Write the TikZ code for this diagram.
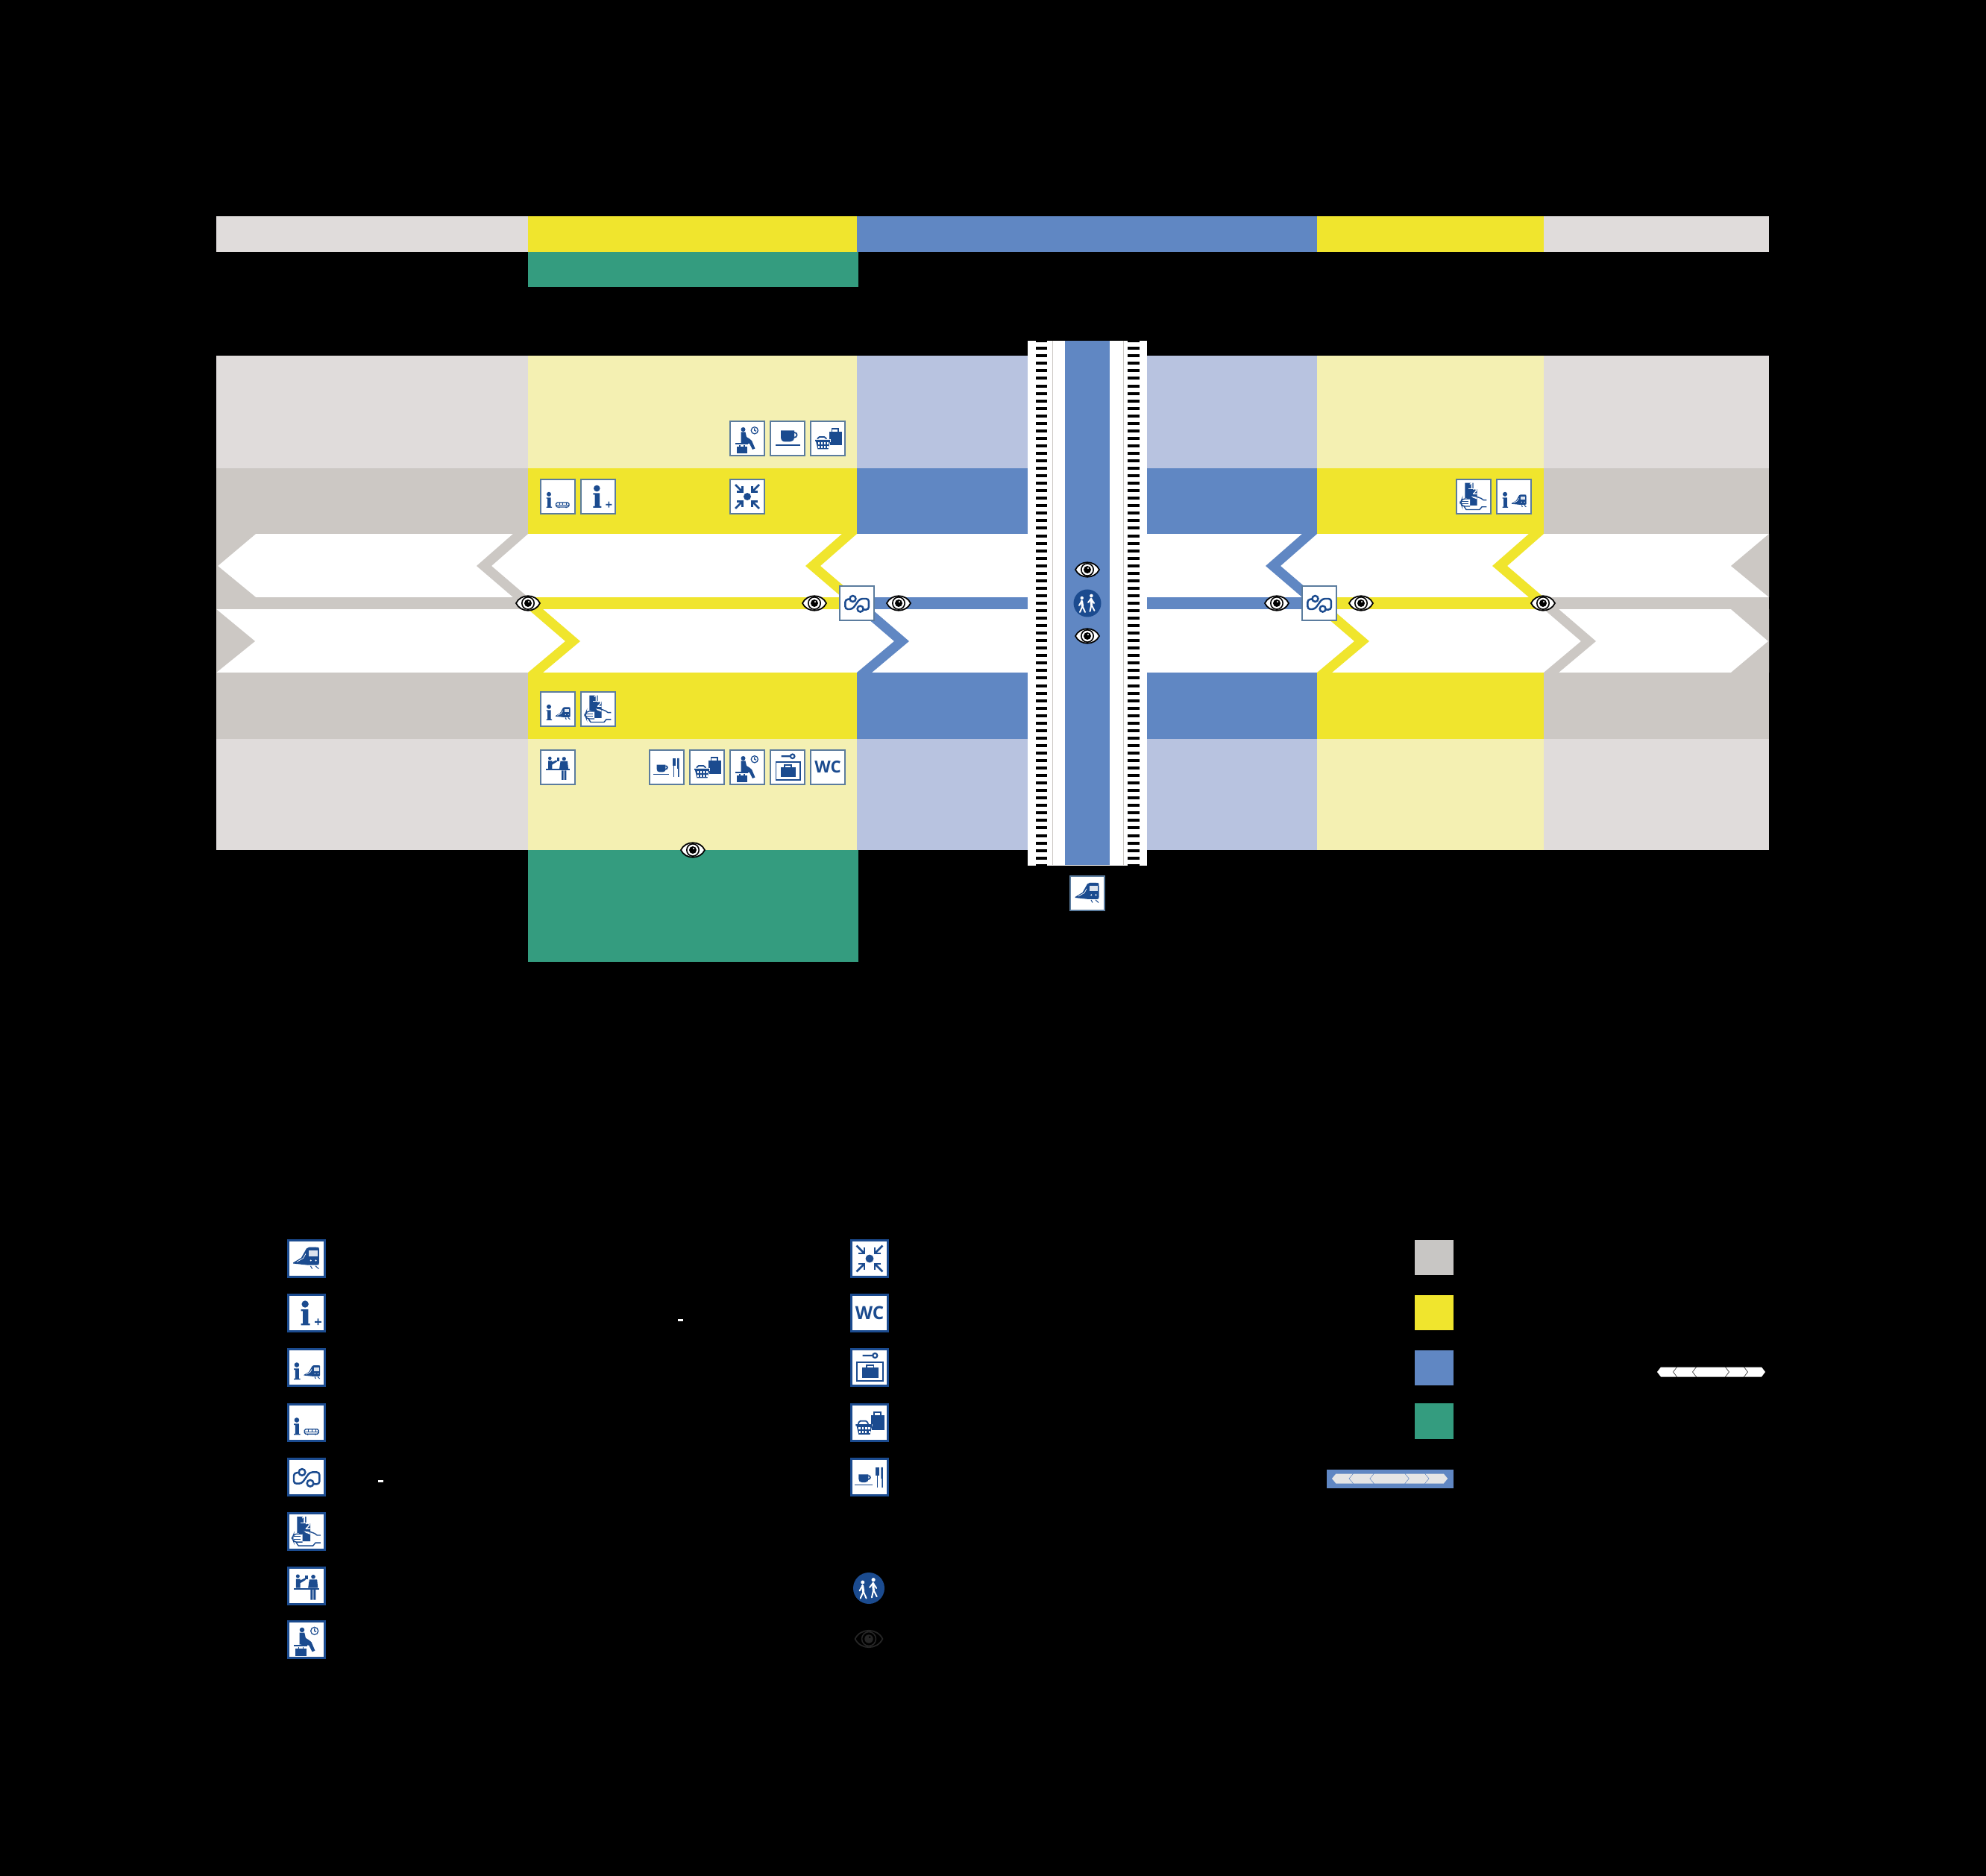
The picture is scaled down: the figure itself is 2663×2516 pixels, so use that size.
\documentclass[tikz,border=0pt]{standalone}
\usepackage{fontspec}
\setsansfont{Open Sans}
\definecolor{grayhi}{HTML}{E0DCDB}
\definecolor{graylo}{HTML}{CCC8C4}
\definecolor{yellowhi}{HTML}{F4F0B2}
\definecolor{yellowlo}{HTML}{F0E52D}
\definecolor{bluehi}{HTML}{B8C3E0}
\definecolor{bluelo}{HTML}{6087C3}
\definecolor{parkgreen}{HTML}{349C7F}
\definecolor{icoblue}{HTML}{1B4B8F}
\definecolor{icoframe}{HTML}{5B7C9E}
\definecolor{keygray}{HTML}{C8C6C4}
\newcommand{\infoglyph}[3]{\begin{scope}[shift={(#1,#2)},scale=#3]
 \fill[icoblue] (-.7,-26) circle (4.3);
 \fill[icoblue] (-5.7,-19.5)--(3.2,-19.5)--(3.2,-2)--(5.3,-2)--(5.3,0)--(-5.7,0)--(-5.7,-2)--(-3.5,-2)--(-3.5,-17.5)--(-5.7,-17.5)--cycle;
\end{scope}}
\newcommand{\trainglyph}[3]{\begin{scope}[shift={(#1,#2)},scale=#3]
 \fill[icoblue] (-16.5,5)--(-6.5,-1) .. controls (-3,-7) .. (0,-12.5) .. controls (1,-14) .. (3,-14)--(12,-14) .. controls (15.5,-14) .. (15.5,-9)--(15.5,5) .. controls (15.5,7.5) .. (12,8)--(2,8)--(-16.5,6)--cycle;
 \fill[white!85!icoblue] (3,-10) rectangle (13.5,-2.5);
 \fill[white] (5.3,2.3) circle (1.1) (11.5,2.3) circle (1.1);
 \draw[white,line width=.2pt] (-12,4)--(-4,-.5)--(-1,-6);
 \draw[icoblue,line width=.3pt] (5,9)--(7,12.5) (11,9)--(15,12.5);
\end{scope}}
\newcommand{\cupglyph}[3]{\begin{scope}[shift={(#1,#2)},scale=#3]
 \fill[icoblue] (-9,-10.5)--(9,-10.5)--(9,-2) .. controls (9,3) and (6,4.5) .. (3,4.5)--(-3,4.5) .. controls (-7,4.5) and (-9,2) .. (-9,-2)--cycle;
 \draw[icoblue,line width=.5pt] (9,-8) .. controls (14,-8) and (14,-1) .. (8,-1);
 \fill[icoblue] (-16.5,8) rectangle (16.5,10.5);
\end{scope}}
\newcommand{\shopglyph}{
 \fill[icoblue] (1.5,-9) rectangle (18.5,9);
 \draw[icoblue,line width=.5pt] (5.5,-9)--(5.5,-13)--(14,-13)--(14,-9);
 \draw[icoblue,fill=white,line width=.5pt,rounded corners=.5pt] (-14,3)--(-13,-2)--(-3,-2)--(-1.5,3);
 \draw[white,line width=.9pt] (-18,3)--(4,3) (1.5,3.8)--(1.5,9);
 \fill[icoblue] (-17,2)--(3,2)--(3,4)--(.5,14.5)--(-13.5,14.5)--(-16,4)--(-17,4)--cycle;
 \foreach \hx in {-13.5,-9.5,-5.5,-1.5}{
  \fill[white] (\hx,5.5) rectangle (\hx+2.6,8.5);
  \fill[white] (\hx+.4,10) rectangle (\hx+2.2,13);
 }
}
\newcommand{\waitglyph}{
 \fill[icoblue] (-5.5,-12) circle (3);
 \fill[icoblue] (-8.5,-8.5)--(-2.5,-8.5)--(-1,-2)--(3,.5)--(6,3)--(10.5,13.5)--(7,15)--(3,7)--(-8.5,6)--cycle;
 \fill[icoblue] (-15.6,6) rectangle (.6,8.3);
 \fill[icoblue] (-13.8,10.7) rectangle (-.3,20);
 \draw[icoblue,line width=.3pt] (-10,10.7)--(-10,9) (-4,9)--(-4,10.7);
 \draw[icoblue,line width=.35pt] (9.8,-10.7) circle (4.6) (9.8,-13.7)--(9.8,-10.7)--(12,-9.7);
}
\tikzset{
 pics/eye/.style 2 args={code={
  \draw[#1,fill=#2,line width=.5pt] (-16,0) .. controls (-10,-13) and (10,-13) .. (16,0) .. controls (10,13) and (-10,13) .. (-16,0)--cycle;
  \draw[#1,line width=.45pt] (0,0) circle (8.2);
  \fill[#1] (0,0) circle (5);
  \fill[#2] (1,-2) circle (1.2);
 }},
 pics/trainico/.style={code={\trainglyph{0}{0}{1}}},
 pics/infoplus/.style={code={
  \infoglyph{-1}{15}{1}
  \fill[icoblue] (10.3,10) rectangle (18.3,11.7) (13.5,6.7) rectangle (15.1,14.7);
 }},
 pics/infotrain/.style={code={
  \infoglyph{-11.5}{15}{.7}
  \trainglyph{7}{6}{.62}
 }},
 pics/infobus/.style={code={
  \infoglyph{-11.5}{15}{.7}
  \draw[icoblue,line width=.35pt,rounded corners=.5pt] (-2.5,8) rectangle (15,14);
  \draw[icoblue,line width=.25pt] (-2.5,11)--(15,11) (2,8)--(2,11) (6.5,8)--(6.5,11) (11,8)--(11,11);
  \fill[icoblue] (1.5,14.5) circle (1) (11,14.5) circle (1);
 }},
 pics/transfer/.style={code={
  \draw[icoblue,line width=.7pt,rounded corners=1pt] (-9.5,-5.5)--(-15.6,-5)--(-15.6,8)--(-6,8)--(4,-6)--(15.9,-6)--(15.9,8.6)--(8.6,8.6);
  \draw[icoblue,fill=white,line width=.7pt] (-5.5,-6) circle (4) (4.6,7.6) circle (4);
 }},
 pics/ticket/.style={code={
  \fill[icoblue] (-11.6,-18.3)--(-.3,-18.3)--(-.3,-9.8)--(4.6,-9.8)--(4.6,12)--(-9,12)--(-9,2)--(-11.6,2)--cycle;
  \node[font=\sffamily\bfseries\fontsize{3.2}{3}\selectfont,white,inner sep=0pt,transform shape] (stepone) at (-3,-14.7) {1};
  \node[font=\sffamily\bfseries\fontsize{3.2}{3}\selectfont,white,inner sep=0pt,transform shape] (steptwo) at (1.8,-6.7) {2};
  \draw[white,line width=.2pt] (-7,-10.3)--(4,-10.3);
  \fill[white] (-4,-1.5)--(3.7,0)--(4.6,3.5)--(-1,1.5)--cycle;
  \draw[icoblue,line width=.4pt,line join=round] (-4,-1.5)--(3.7,0)--(10,2.4)--(13,4.6)--(17.4,4.6);
  \draw[icoblue,line width=.4pt,line join=round] (17.4,13.8)--(11,13.8)--(8,17.5)--(-10,17.5)--(-13,13);
  \draw[icoblue,fill=white,line width=.4pt,rounded corners=1pt] (-5,3)--(-15.5,3)--(-17.6,8)--(-15.5,13)--(-5,13);
  \draw[icoblue,line width=.3pt] (-16,6.3)--(-7,6.3) (-16,9.7)--(-7,9.7);
 }},
 pics/meetdesk/.style={code={
  \fill[icoblue] (-15.6,2.4) rectangle (15.9,4.3);
  \fill[icoblue] (-10.7,-12) circle (2.3) (8.3,-11.3) circle (2.6);
  \fill[icoblue] (-13,-8.5)--(-7.6,-8.5)--(-7.6,-7)--(-2,-9.5)--(-1,-7.5)--(-7.6,-3.5)--(-7.6,2.4)--(-13,2.4)--cycle;
  \fill[icoblue] (-1.5,-13) rectangle (2,-8);
  \fill[icoblue] (3.5,-8)--(13,-8)--(14,2.4)--(2,2.4)--cycle;
  \fill[icoblue] (5,4.3) rectangle (7.7,17) (8.7,4.3) rectangle (11.3,17);
 }},
 pics/waitarea/.style={code={\waitglyph}},
 pics/gather/.style={code={
  \fill[icoblue] (0,0) circle (5);
  \foreach \sx/\sy in {1/1,1/-1,-1/1,-1/-1}{
   \draw[icoblue,line width=.75pt] (\sx*16,\sy*16)--(\sx*6.5,\sy*6.5);
   \draw[icoblue,line width=.75pt] (\sx*14,\sy*6.5)--(\sx*6.5,\sy*6.5)--(\sx*6.5,\sy*14);
  }
 }},
 pics/wcsign/.style={code={
  \node[font=\sffamily\bfseries\fontsize{6.3}{6}\selectfont,icoblue,inner sep=0pt,transform shape] (wcmark) at (0,0) {WC};
 }},
 pics/locker/.style={code={
  \draw[icoblue,line width=.5pt] (-15.6,-6.7) rectangle (16.8,16.8);
  \fill[icoblue] (-9.5,0) rectangle (11.3,13);
  \draw[icoblue,line width=.5pt] (-4,0)--(-4,-3)--(5,-3)--(5,0);
  \draw[icoblue,line width=.6pt] (-8.5,-14.7)--(3.6,-14.7) (6.7,-14.7) circle (2.8);
 }},
 pics/shopping/.style={code={\shopglyph}},
 pics/coffee/.style={code={\cupglyph{0}{0}{1}}},
 pics/foodcup/.style={code={
  \cupglyph{-7.5}{3.5}{.66}
  \draw[icoblue,line width=.5pt] (9.6,-3)--(9.6,13);
  \fill[icoblue] (7.5,-12) rectangle (11.7,-2);
  \fill[icoblue] (14,-12)--(16.5,-12)--(16.5,13)--(15,13)--(15,2)--(14,2)--cycle;
 }},
 pics/walkers/.style={code={
  \fill[white] (-7.3,-7) circle (2.2) (5.4,-10) circle (2.3);
  \draw[white,line width=.9pt,line cap=round] (-7.5,-3)--(-6.5,4);
  \draw[white,line width=.55pt,line cap=round] (-6.5,4)--(-10,12) (-6.5,4)--(-3,12) (-7.5,-3)--(-11,3);
  \draw[white,line width=.9pt,line cap=round] (5,-6)--(5.5,2);
  \draw[white,line width=.55pt,line cap=round] (5.5,2)--(3.5,11) (5.5,2)--(9.5,10) (5,-6)--(1,-1) (5,-6)--(9,0);
 }},
 pics/laneglyph/.style={code={
  \fill[#1] (0,0)--(5,-6.5)--(26,-6.5)--(21,0)--(26,6.5)--(5,6.5)--cycle;
  \fill[#1] (22,0)--(27,-6.5)--(52,-6.5)--(47,0)--(52,6.5)--(27,6.5)--cycle;
  \fill[#1] (48,0)--(53,-6.5)--(91,-6.5)--(96,0)--(91,6.5)--(53,6.5)--cycle;
  \fill[#1] (92,-6.5)--(116,-6.5)--(121,0)--(116,6.5)--(92,6.5)--(97,0)--cycle;
  \fill[#1] (117,-6.5)--(140,-6.5)--(145,0)--(140,6.5)--(117,6.5)--(122,0)--cycle;
 }},
}
\begin{document}
\begin{tikzpicture}[x=.01cm,y=-.01cm,
 station/.style={fill=bluelo},
 lane/.style={fill=white},
 ico/.style={fill=white,draw=icoframe,line width=.4pt},
 legico/.style={fill=white,draw=icoblue,line width=.8pt},
 rung/.style={fill=black},
 disc/.style={fill=icoblue}]
\fill[black] (0,0) rectangle (2663,2516);
\useasboundingbox (0,0) rectangle (2663,2516);
% colour columns
\foreach \xa/\xb/\lite/\deep/\head in {290/708/grayhi/graylo/grayhi,708/1149/yellowhi/yellowlo/yellowlo,1149/1766/bluehi/bluelo/bluelo,1766/2070/yellowhi/yellowlo/yellowlo,2070/2372/grayhi/graylo/grayhi}{
 \fill[\head] (\xa,290) rectangle (\xb,338);
 \fill[\lite] (\xa,477) rectangle (\xb,628);
 \fill[\deep] (\xa,628) rectangle (\xb,716);
 \fill[\deep] (\xa,801) rectangle (\xb,817);
 \fill[\deep] (\xa,902) rectangle (\xb,991);
 \fill[\lite] (\xa,991) rectangle (\xb,1140);
}
\fill[parkgreen] (708,338) rectangle (1151,385);
\fill[parkgreen] (708,1140) rectangle (1151,1290);
% white lanes with chevrons
\fill[lane] (290,716) rectangle (2372,801);
\fill[lane] (290,817) rectangle (2372,902);
\fill[graylo] (290,716)--(343,716)--(292,759)--(343,801)--(290,801)--cycle;
\fill[graylo] (290,817)--(342,860)--(290,902)--cycle;
\fill[graylo] (2372,716)--(2321,759)--(2372,801)--cycle;
\fill[graylo] (2372,817)--(2321,817)--(2371,860)--(2321,902)--(2372,902)--cycle;
\foreach \cx/\tone in {708/graylo,1149/yellowlo,1766/bluelo,2070/yellowlo}{
 \fill[\tone] (\cx-20,716)--(\cx,716)--(\cx-49,759)--(\cx,801)--(\cx-20,801)--(\cx-69,759)--cycle;
}
\foreach \cx/\tone in {708/yellowlo,1149/bluelo,1766/yellowlo,2070/graylo}{
 \fill[\tone] (\cx,817)--(\cx+20,817)--(\cx+70,860)--(\cx+20,902)--(\cx,902)--(\cx+50,860)--cycle;
}
% bridge
\fill[lane] (1378,457) rectangle (1538,1161);
\fill[station] (1428,457) rectangle (1488,1160);
\draw[graylo,line width=.2pt] (1411,457)--(1411,1160) (1506,457)--(1506,1160);
\foreach \k in {-1,...,69}{
 \fill[rung] (1389,{465.3+10.05*\k}) rectangle (1404,{469.3+10.05*\k});
 \fill[rung] (1512,{465.3+10.05*\k}) rectangle (1528,{469.3+10.05*\k});
}
% icons on the plan
\foreach \cx/\cy/\ic in {1002/588/waitarea,1056/588/coffee,1110/588/shopping,
 748/666/infobus,802/666/infoplus,1002/666/gather,1976/666/ticket,2030/666/infotrain,
 748/951/infotrain,802/951/ticket,
 748/1029/meetdesk,894/1029/foodcup,948/1029/shopping,1002/1029/waitarea,1056/1029/locker,1110/1029/wcsign,
 1149/809/transfer,1769/809/transfer,1458/1198/trainico}{
 \draw[ico] (\cx-23,\cy-23) rectangle (\cx+23,\cy+23);
 \pic at (\cx,\cy) {\ic};
}
\foreach \cx/\cy in {708/809,1092/809,1205/809,1712/809,1825/809,2069/809,1458/764,1458/853,929/1140}{
 \pic at (\cx,\cy) {eye={black}{white}};
}
\fill[disc] (1458,809) circle (18.5);
\pic at (1458,809) {walkers};
% legend
\foreach \cx/\cy/\ic in {411/1688/trainico,411/1761/infoplus,411/1834/infotrain,411/1908/infobus,411/1981/transfer,411/2054/ticket,411/2127/meetdesk,411/2199/waitarea,
 1166/1688/gather,1166/1761/wcsign,1166/1834/locker,1166/1908/shopping,1166/1981/foodcup}{
 \draw[legico] (\cx-24.5,\cy-24.5) rectangle (\cx+24.5,\cy+24.5);
 \pic[scale=1.09] at (\cx,\cy) {\ic};
}
\fill[disc] (1165,2130) circle (21);
\pic[scale=1.13] at (1165,2130) {walkers};
\pic[scale=1.15] at (1165,2198) {eye={black!85!white}{black}};
\fill[keygray] (1897,1662.5) rectangle (1949,1709.5);
\fill[yellowlo] (1897,1736.5) rectangle (1949,1783.5);
\fill[bluelo] (1897,1810.5) rectangle (1949,1857.5);
\fill[parkgreen] (1897,1881.5) rectangle (1949,1929.5);
\fill[bluelo] (1779,1970.5) rectangle (1949,1995.5);
\pic[xscale=1.07] at (1786,1983) {laneglyph=black!10!white};
\pic at (2222,1840) {laneglyph=white};
\fill[white] (909,1769) rectangle (916,1772);
\fill[white] (507,1985) rectangle (514,1988);
\end{tikzpicture}
\end{document}
